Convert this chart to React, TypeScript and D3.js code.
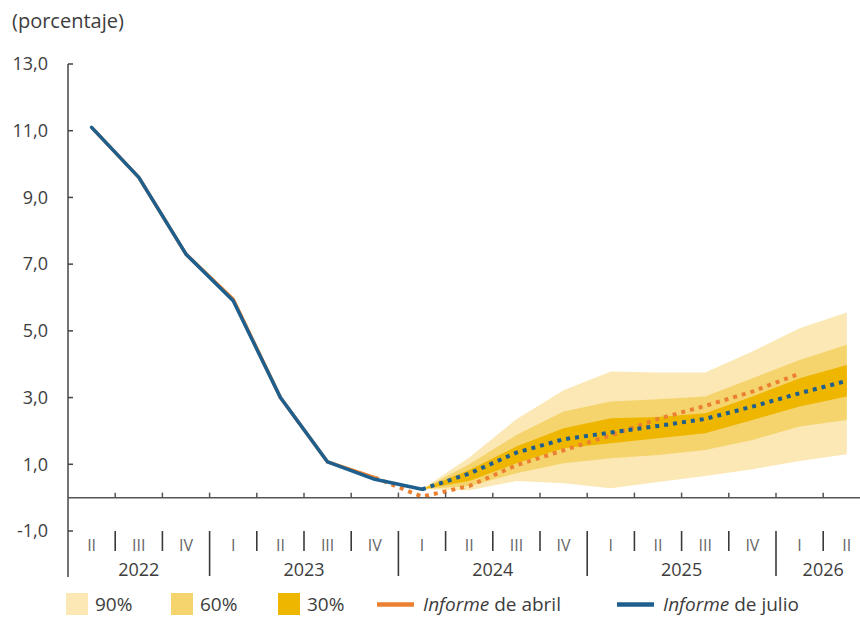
import React, { useEffect, useRef } from 'react';
import * as d3 from 'd3';

// quarters from 2022 II to 2026 II
const quarterLabels = ['II', 'III', 'IV', 'I', 'II', 'III', 'IV', 'I', 'II', 'III', 'IV', 'I', 'II', 'III', 'IV', 'I', 'II'];
const years = [
  { label: '2022', start: 0, end: 3 },
  { label: '2023', start: 3, end: 7 },
  { label: '2024', start: 7, end: 11 },
  { label: '2025', start: 11, end: 15 },
  { label: '2026', start: 15, end: 17 }
];
const yTicks = [-1, 1, 3, 5, 7, 9, 11, 13];

// observed (julio report), 2022 II .. 2024 I
const julioHist = [11.1, 9.6, 7.3, 5.9, 3.0, 1.07, 0.55, 0.25];
// projection (julio), 2024 I .. 2026 II
const julioProj = [0.25, 0.72, 1.35, 1.75, 1.95, 2.15, 2.36, 2.73, 3.13, 3.5];
// abril report: observed 2022 II .. 2023 IV, projection 2023 IV .. 2026 I
const abrilHist = [11.1, 9.6, 7.3, 5.95, 3.0, 1.07, 0.6];
const abrilProj = [0.6, 0.03, 0.35, 0.97, 1.42, 1.87, 2.36, 2.75, 3.18, 3.72];

// fan chart bands, 2024 I .. 2026 II
const up90 = [0.25, 1.2, 2.35, 3.22, 3.78, 3.75, 3.75, 4.38, 5.08, 5.55];
const up60 = [0.25, 1.0, 1.88, 2.58, 2.88, 2.95, 3.03, 3.58, 4.13, 4.58];
const up30 = [0.25, 0.83, 1.53, 2.08, 2.38, 2.42, 2.53, 3.03, 3.58, 3.98];
const lo30 = [0.25, 0.5, 1.03, 1.48, 1.63, 1.78, 1.93, 2.33, 2.73, 3.03];
const lo60 = [0.25, 0.35, 0.73, 1.03, 1.18, 1.28, 1.43, 1.73, 2.13, 2.33];
const lo90 = [0.25, 0.22, 0.5, 0.43, 0.28, 0.47, 0.65, 0.85, 1.1, 1.3];

const FONT = "'Open Sans', sans-serif";
const TEXT = '#3d3d3d';
const BLUE = '#1e5f8e';
const ORANGE = '#ea8030';
const C90 = '#fbe8b4';
const C60 = '#f5d46d';
const C30 = '#efb600';

const App = () => {
  const ref = useRef<SVGSVGElement>(null);

  useEffect(() => {
    const svg = d3.select(ref.current);
    svg.selectAll('*').remove();

    const x = d3.scaleLinear().domain([0, 17]).range([68, 870.4]);
    const xc = (i: number) => x(i + 0.5);
    const y = d3.scaleLinear().domain([-1, 13]).range([531, 64]);

    const projStart = 7; // 2024 I
    const abrilProjStart = 6; // 2023 IV

    // fan bands
    const bands: [number[], number[], string][] = [
      [lo90, up90, C90],
      [lo60, up60, C60],
      [lo30, up30, C30]
    ];
    bands.forEach(([lo, hi, color]) => {
      const area = d3
        .area<number>()
        .x((d, i) => xc(projStart + i))
        .y0((d, i) => y(lo[i]))
        .y1((d, i) => y(hi[i]));
      svg.append('path').datum(lo).attr('d', area).attr('fill', color);
    });

    const line = (offset: number) =>
      d3
        .line<number>()
        .x((d, i) => xc(offset + i))
        .y(d => y(d));

    // abril
    svg
      .append('path')
      .datum(abrilHist)
      .attr('d', line(0))
      .attr('fill', 'none')
      .attr('stroke', ORANGE)
      .attr('stroke-width', 3.5)
      .attr('stroke-linejoin', 'round');
    svg
      .append('path')
      .datum(abrilProj)
      .attr('d', line(abrilProjStart))
      .attr('fill', 'none')
      .attr('stroke', ORANGE)
      .attr('stroke-width', 4)
      .attr('stroke-dasharray', '4 5');

    // julio
    svg
      .append('path')
      .datum(julioHist)
      .attr('d', line(0))
      .attr('fill', 'none')
      .attr('stroke', BLUE)
      .attr('stroke-width', 3.5)
      .attr('stroke-linejoin', 'round')
      .attr('stroke-linecap', 'round');
    svg
      .append('path')
      .datum(julioProj)
      .attr('d', line(projStart))
      .attr('fill', 'none')
      .attr('stroke', BLUE)
      .attr('stroke-width', 4)
      .attr('stroke-dasharray', '4 5');

    // y axis
    svg
      .append('line')
      .attr('x1', 68)
      .attr('x2', 68)
      .attr('y1', y(13))
      .attr('y2', 577)
      .attr('stroke', '#444')
      .attr('stroke-width', 1.5);
    svg
      .selectAll('.ytick')
      .data(yTicks)
      .join('line')
      .attr('x1', 68)
      .attr('x2', 73)
      .attr('y1', d => y(d))
      .attr('y2', d => y(d))
      .attr('stroke', '#444')
      .attr('stroke-width', 1.5);
    svg
      .selectAll('.ylab')
      .data(yTicks)
      .join('text')
      .attr('x', 48)
      .attr('y', d => y(d))
      .attr('dy', '0.35em')
      .attr('text-anchor', 'end')
      .attr('font-family', FONT)
      .attr('font-size', 18)
      .attr('fill', TEXT)
      .text(d => d.toFixed(1).replace('.', ','));

    // zero line with quarter ticks
    svg
      .append('line')
      .attr('x1', 68)
      .attr('x2', 860)
      .attr('y1', y(0))
      .attr('y2', y(0))
      .attr('stroke', '#555')
      .attr('stroke-width', 1.5);
    svg
      .selectAll('.xtick')
      .data(d3.range(1, 17))
      .join('line')
      .attr('x1', d => x(d))
      .attr('x2', d => x(d))
      .attr('y1', y(0))
      .attr('y2', y(0) - 5)
      .attr('stroke', '#555')
      .attr('stroke-width', 1.5);

    // category separators
    const yearBounds = years.map(d => d.end).filter(d => d < 17);
    svg
      .selectAll('.sep')
      .data(d3.range(1, 17))
      .join('line')
      .attr('x1', d => x(d))
      .attr('x2', d => x(d))
      .attr('y1', 531)
      .attr('y2', d => (yearBounds.includes(d) ? 576 : 551))
      .attr('stroke', '#3a3a3a')
      .attr('stroke-width', 1.6);

    svg
      .selectAll('.qlab')
      .data(quarterLabels)
      .join('text')
      .attr('x', (d, i) => xc(i))
      .attr('y', 551)
      .attr('text-anchor', 'middle')
      .attr('font-family', FONT)
      .attr('font-size', 16)
      .attr('fill', '#666')
      .text(d => d);

    svg
      .selectAll('.yrlab')
      .data(years)
      .join('text')
      .attr('x', d => (x(d.start) + x(d.end)) / 2)
      .attr('y', 576)
      .attr('text-anchor', 'middle')
      .attr('font-family', FONT)
      .attr('font-size', 18)
      .attr('fill', TEXT)
      .text(d => d.label);

    // title
    svg
      .append('text')
      .attr('x', 12)
      .attr('y', 28)
      .attr('font-family', FONT)
      .attr('font-size', 20)
      .attr('fill', TEXT)
      .text('(porcentaje)');

    // legend
    const legend = svg.append('g').attr('font-family', FONT).attr('font-size', 19).attr('fill', TEXT);
    const swatches: [number, string, string][] = [
      [66, C90, '90%'],
      [171, C60, '60%'],
      [278, C30, '30%']
    ];
    swatches.forEach(([sx, color, label]) => {
      legend.append('rect').attr('x', sx).attr('y', 593).attr('width', 22).attr('height', 22).attr('fill', color);
      legend
        .append('text')
        .attr('x', sx + 29)
        .attr('y', 604)
        .attr('dy', '0.35em')
        .text(label);
    });
    const lines: [number, string, string][] = [
      [377, ORANGE, 'de abril'],
      [617, BLUE, 'de julio']
    ];
    lines.forEach(([lx, color, label]) => {
      legend
        .append('line')
        .attr('x1', lx)
        .attr('x2', lx + 37)
        .attr('y1', 604.5)
        .attr('y2', 604.5)
        .attr('stroke', color)
        .attr('stroke-width', 4.5);
      const t = legend
        .append('text')
        .attr('x', lx + 46)
        .attr('y', 604)
        .attr('dy', '0.35em');
      t.append('tspan').attr('font-style', 'italic').text('Informe');
      t.append('tspan').text(' ' + label);
    });
  }, []);

  return (
    <svg
      ref={ref}
      width={860}
      height={618}
      style={{ position: 'absolute', left: 0, top: 0, background: '#fff' }}
    />
  );
};

export default App;
